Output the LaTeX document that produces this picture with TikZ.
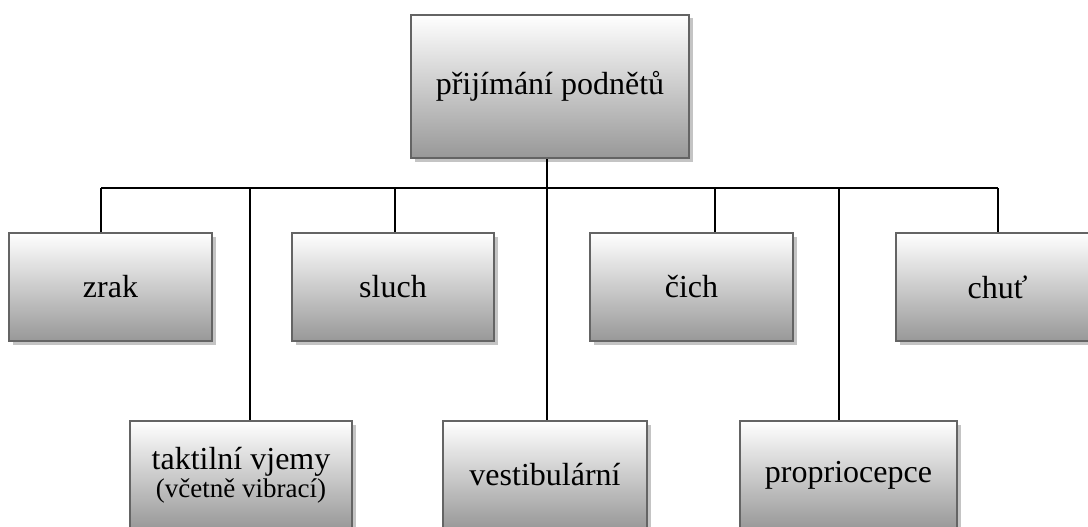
\documentclass[tikz,border=0pt]{standalone}
\usepackage{fontspec}
\setmainfont{Liberation Serif}
\usetikzlibrary{shadows}
\definecolor{boxedge}{RGB}{100,100,100}
\definecolor{boxbottom}{RGB}{152,152,152}
\definecolor{boxshadow}{RGB}{196,196,196}
\begin{document}
\begin{tikzpicture}[x=1pt,y=-1pt,
  sensebox/.style={rectangle, draw=boxedge, line width=2.8pt,
    top color=white, bottom color=boxbottom, inner sep=0pt,
    minimum height=108pt, align=center,
    font=\fontsize{32}{36}\selectfont,
    drop shadow={shadow xshift=3.5pt, shadow yshift=-3.5pt, fill=boxshadow, opacity=1}},
  link/.style={draw=black, line width=1.8pt}]
\useasboundingbox (0,0) rectangle (1088,527);
\clip (0,0) rectangle (1088,527);

% root
\node[sensebox, minimum width=278pt, minimum height=143pt] (root) at (550,86.5) {přijímání podnětů};

% upper row
\node[sensebox, minimum width=203pt] (zrak) at (110.5,287) {zrak};
\node[sensebox, minimum width=202pt] (sluch) at (393,287) {sluch};
\node[sensebox, minimum width=203pt] (cich) at (691.5,287) {čich};
\node[sensebox, minimum width=203pt] (chut) at (997.5,287) {chuť};

% lower row
\node[sensebox, minimum width=222pt] (takt) at (241,475)
  {taktilní vjemy\\[-8pt]{\fontsize{27}{30}\selectfont (včetně vibrací)}};
\node[sensebox, minimum width=204pt] (vest) at (545,475) {vestibulární};
\node[sensebox, minimum width=217pt] (prop) at (848.5,475) {propriocepce};

% bus line and taps
\coordinate (bZ) at (101,188);
\coordinate (bT) at (250,188);
\coordinate (bS) at (395,188);
\coordinate (bV) at (547,188);
\coordinate (bC) at (715,188);
\coordinate (bP) at (839,188);
\coordinate (bH) at (998,188);

\draw[link] (bZ) -- (bH);
\draw[link] (bV |- root.south) -- (bV |- vest.north);
\draw[link] (bZ) -- (bZ |- zrak.north);
\draw[link] (bT) -- (bT |- takt.north);
\draw[link] (bS) -- (bS |- sluch.north);
\draw[link] (bC) -- (bC |- cich.north);
\draw[link] (bP) -- (bP |- prop.north);
\draw[link] (bH) -- (bH |- chut.north);
\end{tikzpicture}
\end{document}
